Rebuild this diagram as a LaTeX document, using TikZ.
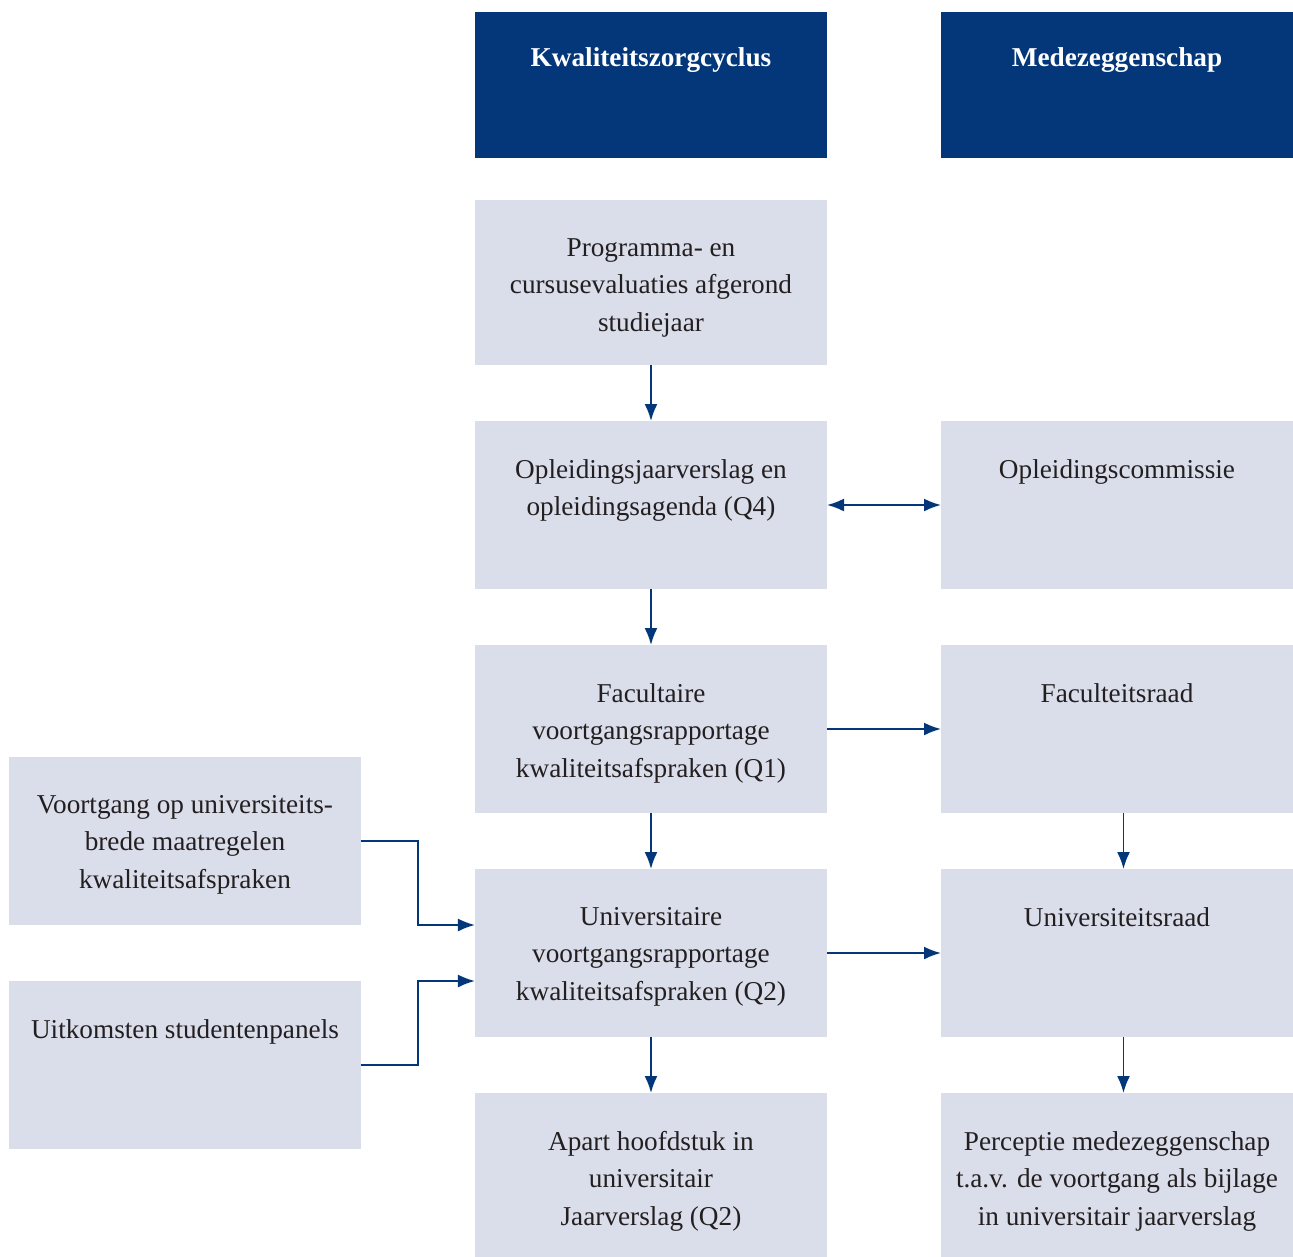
\documentclass[tikz,border=0pt]{standalone}
\usepackage{fontspec}
\setmainfont{Liberation Serif}
\usepackage{tikz}
\definecolor{headblue}{RGB}{3,55,122}
\definecolor{boxgrey}{RGB}{218,221,234}
\definecolor{txtgrey}{RGB}{35,31,32}
\tikzstyle{head}=[rectangle,fill=headblue,minimum width=7.04cm,
minimum height=2.92cm,inner sep=0pt,outer sep=0pt]
\tikzstyle{headtxt}=[anchor=north,yshift=-0.71cm,inner sep=0pt,text=white,
font=\fontsize{15.5}{21.3}\selectfont\bfseries]
\tikzstyle{box}=[rectangle,fill=boxgrey,minimum width=7.04cm,
minimum height=3.36cm,inner sep=0pt,outer sep=0pt]
\tikzstyle{boxtxt}=[anchor=north,yshift=-0.76cm,inner sep=0pt,align=center,
text=txtgrey,font=\fontsize{15.5}{21.3}\selectfont]
\usetikzlibrary{arrows.meta,positioning}

\begin{document}
\begin{tikzpicture}[node distance=1.12cm and 2.28cm, >={Latex[length=3.4mm,width=2.6mm]},
        every edge/.style={draw=headblue,line width=1.1pt}]
            % HEADERS

            \node[head,label={[headtxt]north:Kwaliteitszorgcyclus}] (kzc) {};
            \node[head,right=of kzc,label={[headtxt]north:Medezeggenschap}] (mzs) {};

            % KWALITEITSZORG PART

            \node[box,minimum height=3.3cm,below=0.84cm of kzc,
                label={[boxtxt]north:Programma- en\\cursusevaluaties afgerond\\studiejaar}] (prog) {};
            \node[box,below=of prog,
                label={[boxtxt]north:Opleidingsjaarverslag en\\opleidingsagenda (Q4)}] (opl) {};
            \node[box,below=of opl,
                label={[boxtxt]north:Facultaire\\voortgangsrapportage\\kwaliteitsafspraken (Q1)}] (fac) {};
            \node[box,below=of fac,
                label={[boxtxt]north:Universitaire\\voortgangsrapportage\\kwaliteitsafspraken (Q2)}] (univ) {};
            \node[box,minimum height=3.28cm,below=of univ,
                label={[boxtxt]north:Apart hoofdstuk in\\universitair\\Jaarverslag (Q2)}] (apart) {};

            \path[->] (prog) edge (opl);
            \path[->] (opl) edge (fac);
            \path[->] (fac) edge (univ);
            \path[->] (univ) edge (apart);

            % MEDEZEGGENSCHAP PART

            \node[box,right=of opl,label={[boxtxt]north:Opleidingscommissie}] (oc) {};
            \node[box,right=of fac,label={[boxtxt]north:Faculteitsraad}] (fr) {};
            \node[box,right=of univ,label={[boxtxt]north:Universiteitsraad}] (ur) {};
            \node[box,minimum height=3.28cm,right=of apart,
                label={[boxtxt]north:Perceptie medezeggenschap\\t.a.v. de voortgang als bijlage\\in universitair jaarverslag}] (perc) {};

            \path[<->] (opl) edge (oc);
            \path[->] (fac) edge (fr);
            \path[->] (univ) edge (ur);
            \path[->] ([xshift=0.13cm]fr.south) edge ([xshift=0.13cm]ur.north);
            \path[->] ([xshift=0.13cm]ur.south) edge ([xshift=0.13cm]perc.north);

            % INPUT PART

            \node[box,left=of fac,yshift=-2.24cm,
                label={[boxtxt]north:Voortgang op universiteits-\\brede maatregelen\\kwaliteitsafspraken}] (voortg) {};
            \node[box,left=of univ,yshift=-2.24cm,
                label={[boxtxt]north:Uitkomsten studentenpanels}] (uitk) {};

            \draw[->,draw=headblue,line width=1.1pt] (voortg.east) -- ++(1.14cm,0) |- ([yshift=0.56cm]univ.west);
            \draw[->,draw=headblue,line width=1.1pt] (uitk.east) -- ++(1.14cm,0) |- ([yshift=-0.56cm]univ.west);

            \path ([xshift=-9.5cm,yshift=0.24cm]kzc.north west) rectangle (perc.south east);

        \end{tikzpicture}
\end{document}
